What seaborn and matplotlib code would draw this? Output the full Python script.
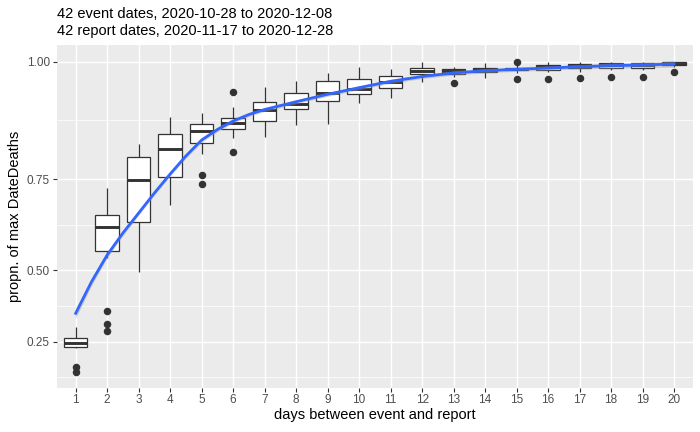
import numpy as np
import pandas as pd
import matplotlib
matplotlib.use("Agg")
import matplotlib.pyplot as plt
import seaborn as sns

# ---------------- data ----------------
days = list(range(1, 21))
whisker_low = [0.2232, 0.5371, 0.4943, 0.6852, 0.8082, 0.8441, 0.8463, 0.8729, 0.8751, 0.9184,
               0.9285, 0.9610, 0.9713, 0.9682, 0.9780, 0.9810, 0.9810, 0.9845, 0.9845, 0.9895]
q1 = [0.2273, 0.5587, 0.6411, 0.7558, 0.8330, 0.8650, 0.8821, 0.9060, 0.9224, 0.9378,
      0.9486, 0.9765, 0.9765, 0.9798, 0.9840, 0.9845, 0.9875, 0.9887, 0.9890, 0.9935]
median = [0.2459, 0.6259, 0.7478, 0.8202, 0.8600, 0.8773, 0.9046, 0.9169, 0.9386, 0.9478,
          0.9610, 0.9829, 0.9814, 0.9837, 0.9861, 0.9903, 0.9913, 0.9939, 0.9945, 0.9965]
q3 = [0.2658, 0.6582, 0.8013, 0.8528, 0.8744, 0.8885, 0.9216, 0.9398, 0.9636, 0.9674,
      0.9727, 0.9887, 0.9860, 0.9887, 0.9890, 0.9939, 0.9952, 0.9970, 0.9970, 0.9990]
whisker_high = [0.3080, 0.7288, 0.8321, 0.8906, 0.8990, 0.9102, 0.9506, 0.9630, 0.9790, 0.9894,
                0.9861, 1.0000, 0.9903, 0.9970, 0.9939, 1.0000, 1.0000, 1.0000, 1.0000, 1.0000]
outlier_days = [1, 1, 2, 2, 2, 5, 5, 6, 6, 13, 15, 15, 16, 17, 18, 19, 20]
outlier_values = [0.143, 0.123, 0.364, 0.319, 0.291, 0.760, 0.737, 0.941, 0.8135,
                  0.960, 1.000, 0.967, 0.967, 0.9694, 0.9713, 0.9713, 0.9798]

# smooth curve
curve_days = [1, 1.5, 2, 2.5, 3, 3.5, 4, 4.5, 5, 5.5, 6, 6.5, 7, 8, 9, 10, 11, 12, 13, 14,
              15, 16, 17, 18, 19, 20]
curve_vals = [0.357, 0.4636, 0.547, 0.6101, 0.6643, 0.7157, 0.7622, 0.8044, 0.8403, 0.8633,
              0.8815, 0.8952, 0.9056, 0.9216, 0.9366, 0.9498, 0.9624, 0.9717, 0.9785, 0.9829,
              0.9856, 0.9880, 0.9905, 0.9925, 0.9938, 0.9957]
curve_ci = [0.018, 0.012, 0.009, 0.007, 0.006, 0.005, 0.005, 0.005, 0.005, 0.005,
            0.004, 0.004, 0.004, 0.004, 0.004, 0.004, 0.004, 0.004, 0.004, 0.004,
            0.004, 0.004, 0.004, 0.005, 0.005, 0.006]

y_ticks = [0.25, 0.50, 0.75, 1.00]
y_tick_labels = ["0.25", "0.50", "0.75", "1.00"]
title_lines = ["42 event dates, 2020-10-28 to 2020-12-08",
               "42 report dates, 2020-11-17 to 2020-12-28"]
x_label = "days between event and report"
y_label = "propn. of max DateDeaths"

# ------------- long-form table reproducing each box summary -------------
rows = []
for i, d in enumerate(days):
    vals = ([whisker_low[i]] + [q1[i]] * 10 + [median[i]] * 10 + [q3[i]] * 10
            + [whisker_high[i]])
    vals += [v for od, v in zip(outlier_days, outlier_values) if od == d]
    rows += [(d, v) for v in vals]
df = pd.DataFrame(rows, columns=["day", "value"])

# ---------------- figure ----------------
plt.rcParams["font.family"] = ["Liberation Sans", "DejaVu Sans"]
fig = plt.figure(figsize=(7, 4.32), dpi=100)
ax = fig.add_axes([0.0811, 0.1030, 0.9089, 0.7928])
ax.set_facecolor("#EBEBEB")
ax.set_axisbelow(True)

sns.boxplot(data=df, x="day", y="value", native_scale=True, width=0.75,
            color="white", linecolor="#333333", linewidth=0.9, fliersize=4.4,
            showcaps=False,
            medianprops={"linewidth": 2.1, "color": "#333333"},
            flierprops={"marker": "o", "markerfacecolor": "#333333",
                        "markeredgecolor": "#333333"},
            ax=ax)

ax.set_yscale("function", functions=(np.exp, np.log))

lower = np.array(curve_vals) - np.array(curve_ci)
upper = np.array(curve_vals) + np.array(curve_ci)
ax.fill_between(curve_days, lower, upper, color="#999999", alpha=0.4, linewidth=0, zorder=3)
sns.lineplot(x=curve_days, y=curve_vals, color="#3366FF", linewidth=2.0, ax=ax,
             estimator=None, zorder=4)

ax.set_xlim(0.4, 20.6)
ax.set_ylim(0.048, 1.031)
ax.set_xticks(days)
ax.set_xticklabels([str(d) for d in days])
ax.set_yticks(y_ticks)
ax.set_yticklabels(y_tick_labels)
ex = np.exp(y_ticks)
minor = [np.log(ex[0] - (ex[1] - ex[0]) / 2)] + [np.log((a + b) / 2) for a, b in zip(ex[:-1], ex[1:])]
ax.set_yticks(minor, minor=True)

ax.grid(which="major", color="white", linewidth=1.05)
ax.grid(which="minor", axis="y", color="white", linewidth=0.5)
ax.tick_params(which="minor", length=0)
ax.tick_params(which="major", length=2.7, width=0.8, color="#333333",
               labelcolor="#4D4D4D", labelsize=8.45, pad=2.2)
for s in ax.spines.values():
    s.set_visible(False)
ax.set_xlabel("")
ax.set_ylabel("")

fig.text(374.9 / 700, 1 - 418.5 / 432, x_label, ha="center", va="baseline", fontsize=10.5)
fig.text(15.5 / 700, 216 / 432, y_label, ha="center", va="center", rotation=90, fontsize=10.5)
fig.text(57 / 700, 1 - 18.3 / 432, title_lines[0], ha="left", va="baseline", fontsize=10.5)
fig.text(57 / 700, 1 - 35.0 / 432, title_lines[1], ha="left", va="baseline", fontsize=10.5)

fig.savefig("out.png", dpi=100)
